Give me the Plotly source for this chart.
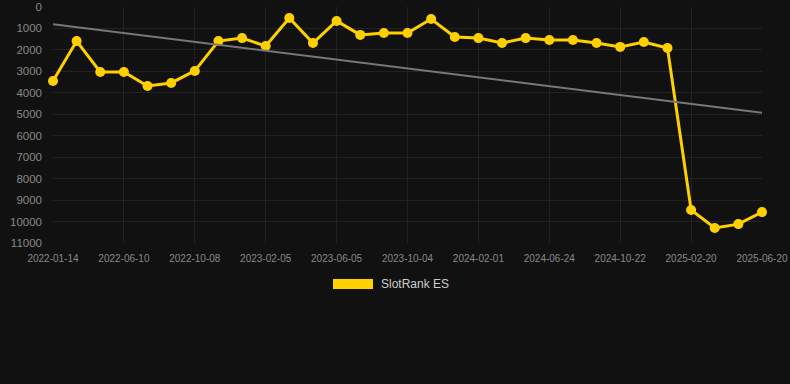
import numpy as np
import plotly.graph_objects as go

dates = ["2022-01-14", "2022-03-04", "2022-04-22", "2022-06-10", "2022-07-20", "2022-08-29",
         "2022-10-08", "2022-11-17", "2022-12-27", "2023-02-05", "2023-03-17", "2023-04-26",
         "2023-06-05", "2023-07-15", "2023-08-24", "2023-10-04", "2023-11-13", "2023-12-23",
         "2024-02-01", "2024-03-19", "2024-05-07", "2024-06-24", "2024-08-03", "2024-09-12",
         "2024-10-22", "2024-12-01", "2025-01-10", "2025-02-20", "2025-04-01", "2025-05-11",
         "2025-06-20"]
rank = [3450, 1590, 3030, 3030, 3680, 3540, 2980, 1590, 1450, 1820, 510, 1680, 650, 1300,
        1210, 1210, 560, 1400, 1450, 1680, 1450, 1540, 1540, 1680, 1860, 1630, 1910, 9460,
        10300, 10120, 9560]
tick_labels = dates[::3]
y_ticks = list(range(0, 12000, 1000))
series_name = "SlotRank ES"

# linear trend from data
idx = np.arange(len(rank))
slope, intercept = np.polyfit(idx, rank, 1)
trend_y = [intercept, intercept + slope * idx[-1]]

gold = "#FFD000"
fig = go.Figure()
fig.add_trace(go.Scatter(x=dates, y=rank, mode="lines+markers", name=series_name,
                         line=dict(color=gold, width=3), cliponaxis=False,
                         marker=dict(color=gold, size=10), showlegend=False))
fig.add_trace(go.Scatter(x=[dates[0], dates[-1]], y=trend_y, mode="lines",
                         line=dict(color="#777777", width=2), showlegend=False,
                         hoverinfo="skip"))

fig.update_layout(
    width=790, height=384,
    margin=dict(l=53, r=28, t=7, b=141),
    paper_bgcolor="#111111", plot_bgcolor="#111111",
    font=dict(family="Liberation Sans, Arial, sans-serif", color="#888888"),
    showlegend=False,
    xaxis=dict(type="category", categoryorder="array", categoryarray=dates,
               range=[0, len(dates) - 1], tickmode="array",
               tickvals=tick_labels, ticktext=tick_labels,
               tickfont=dict(size=10, color="#888888"),
               showgrid=True, gridcolor="#222222", gridwidth=1,
               zeroline=False, showline=False, ticks="", ticklabelstandoff=8,
               automargin=False),
    yaxis=dict(range=[11000, 0], tickmode="array", tickvals=y_ticks,
               ticktext=[str(v) for v in y_ticks],
               tickfont=dict(size=11.5, color="#888888"),
               showgrid=True, gridcolor="#222222", gridwidth=1,
               zeroline=False, showline=False, ticks="", ticklabelstandoff=10,
               automargin=False),
    shapes=[dict(type="rect", xref="paper", yref="paper",
                 x0=(333 - 53) / 709, x1=(373 - 53) / 709,
                 y0=(384 - 141 - 289) / 236, y1=(384 - 141 - 279) / 236,
                 fillcolor=gold, line=dict(width=0))],
    annotations=[dict(text=series_name, xref="paper", yref="paper",
                      x=(379 - 53) / 709, y=(384 - 141 - 284) / 236,
                      xanchor="left", yanchor="middle", showarrow=False,
                      font=dict(size=12, color="#cccccc"))],
)

fig.write_html("out.html")
